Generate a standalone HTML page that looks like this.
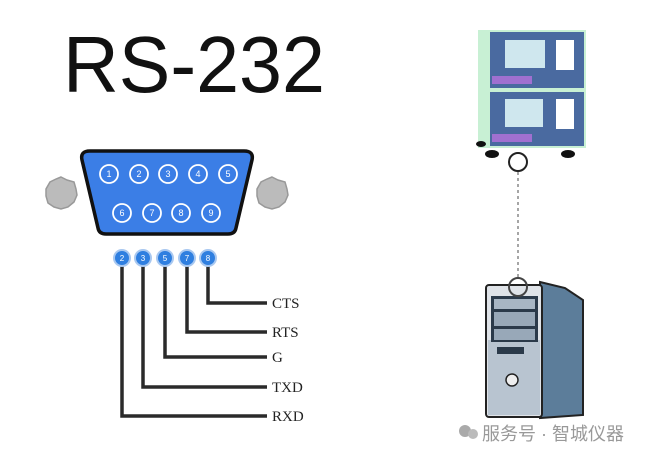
<!DOCTYPE html>
<html><head><meta charset="utf-8"><style>
html,body{margin:0;padding:0;background:#fff;width:650px;height:459px;overflow:hidden}
</style></head><body>
<svg width="650" height="459" viewBox="0 0 650 459" xmlns="http://www.w3.org/2000/svg">
<text x="63" y="92" font-family="Liberation Sans, sans-serif" font-size="80" fill="#111" textLength="262" lengthAdjust="spacingAndGlyphs">RS-232</text>
<polygon points="61,177 67,180 74,182 76,189 77,195 74,202 68,207 61,209 54,207 48,203 46,196 46,189 50,182 56,179" fill="#bbb" stroke="#999" stroke-width="1.5"/>
<polygon points="272,177 278,180 285,182 287,189 288,195 285,202 279,207 272,209 265,207 259,203 257,196 257,189 261,182 267,179" fill="#bbb" stroke="#999" stroke-width="1.5"/>
<path d="M90,151 L244,151 Q254,151 252,160 L236,228 Q235,234 228,234 L106,234 Q99,234 98,228 L82,160 Q80,151 90,151 Z" fill="#3b7ee6" stroke="#111" stroke-width="3.5"/>
<g fill="none" stroke="#fff" stroke-width="1.8">
<circle cx="109" cy="174" r="9"/><circle cx="139" cy="174" r="9"/><circle cx="168" cy="174" r="9"/><circle cx="198" cy="174" r="9"/><circle cx="228" cy="174" r="9"/>
<circle cx="122" cy="213" r="9"/><circle cx="152" cy="213" r="9"/><circle cx="181" cy="213" r="9"/><circle cx="211" cy="213" r="9"/>
</g>
<g fill="#fff" font-family="Liberation Sans, sans-serif" font-size="9" text-anchor="middle">
<text x="109" y="177">1</text><text x="139" y="177">2</text><text x="168" y="177">3</text><text x="198" y="177">4</text><text x="228" y="177">5</text>
<text x="122" y="216">6</text><text x="152" y="216">7</text><text x="181" y="216">8</text><text x="211" y="216">9</text>
</g>
<g fill="none" stroke="#2a2a2a" stroke-width="3.5">
<path d="M122,262 V416 H267"/><path d="M143,262 V387 H267"/><path d="M165,262 V357 H267"/><path d="M187,262 V332 H267"/><path d="M208,262 V303 H267"/>
</g>
<g fill="#2f7fe0" stroke="#a9c8f0" stroke-width="2">
<circle cx="122" cy="258" r="8"/><circle cx="143" cy="258" r="8"/><circle cx="165" cy="258" r="8"/><circle cx="187" cy="258" r="8"/><circle cx="208" cy="258" r="8"/>
</g>
<g fill="#fff" font-family="Liberation Sans, sans-serif" font-size="8" text-anchor="middle">
<text x="122" y="261">2</text><text x="143" y="261">3</text><text x="165" y="261">5</text><text x="187" y="261">7</text><text x="208" y="261">8</text>
</g>
<g fill="#222" font-family="Liberation Serif, serif" font-size="15">
<text x="272" y="308">CTS</text><text x="272" y="337">RTS</text><text x="272" y="362">G</text><text x="272" y="392">TXD</text><text x="272" y="421">RXD</text>
</g>
<rect x="478" y="30" width="108" height="118" fill="#c8f0d4"/>
<rect x="490" y="32" width="94" height="56" fill="#4a6aa0"/>
<rect x="490" y="92" width="94" height="54" fill="#4a6aa0"/>
<rect x="505" y="40" width="40" height="28" fill="#cfe7ee"/>
<rect x="505" y="99" width="38" height="28" fill="#cfe7ee"/>
<rect x="556" y="40" width="18" height="30" fill="#fff"/>
<rect x="556" y="99" width="18" height="30" fill="#fff"/>
<rect x="492" y="76" width="40" height="8" fill="#a070d0"/>
<rect x="492" y="134" width="40" height="8" fill="#a070d0"/>
<ellipse cx="492" cy="154" rx="7" ry="4" fill="#111"/><ellipse cx="568" cy="154" rx="7" ry="4" fill="#111"/><ellipse cx="481" cy="144" rx="5" ry="3" fill="#111"/>
<circle cx="518" cy="162" r="9" fill="#fff" stroke="#222" stroke-width="2"/>
<line x1="518" y1="172" x2="518" y2="280" stroke="#888" stroke-width="1.5" stroke-dasharray="3,3"/>
<polygon points="540,282 565,288 583,300 583,415 540,418" fill="#5c7d9a" stroke="#222" stroke-width="2"/>
<rect x="486" y="285" width="56" height="132" rx="3" fill="#dfe3e8" stroke="#222" stroke-width="2"/>
<polygon points="488,340 540,340 540,415 488,415" fill="#b8c4d0"/>
<rect x="491" y="296" width="47" height="46" fill="#2b3a4a"/>
<rect x="494" y="299" width="41" height="10" fill="#a8b6c4"/>
<rect x="494" y="312" width="41" height="14" fill="#98a8b8"/>
<rect x="494" y="329" width="41" height="11" fill="#98a8b8"/>
<rect x="497" y="347" width="27" height="7" fill="#2b3a4a"/>
<circle cx="512" cy="380" r="6" fill="#eee" stroke="#222" stroke-width="1.5"/>
<circle cx="518" cy="287" r="9" fill="none" stroke="#444" stroke-width="2"/>
<circle cx="465" cy="431" r="6" fill="#aaa"/><circle cx="473" cy="434" r="5" fill="#bbb"/>
<text x="482" y="440" font-family="Liberation Sans, 'Noto Sans CJK SC', sans-serif" font-size="18" fill="#999">服务号 · 智城仪器</text>
</svg>
</body></html>
